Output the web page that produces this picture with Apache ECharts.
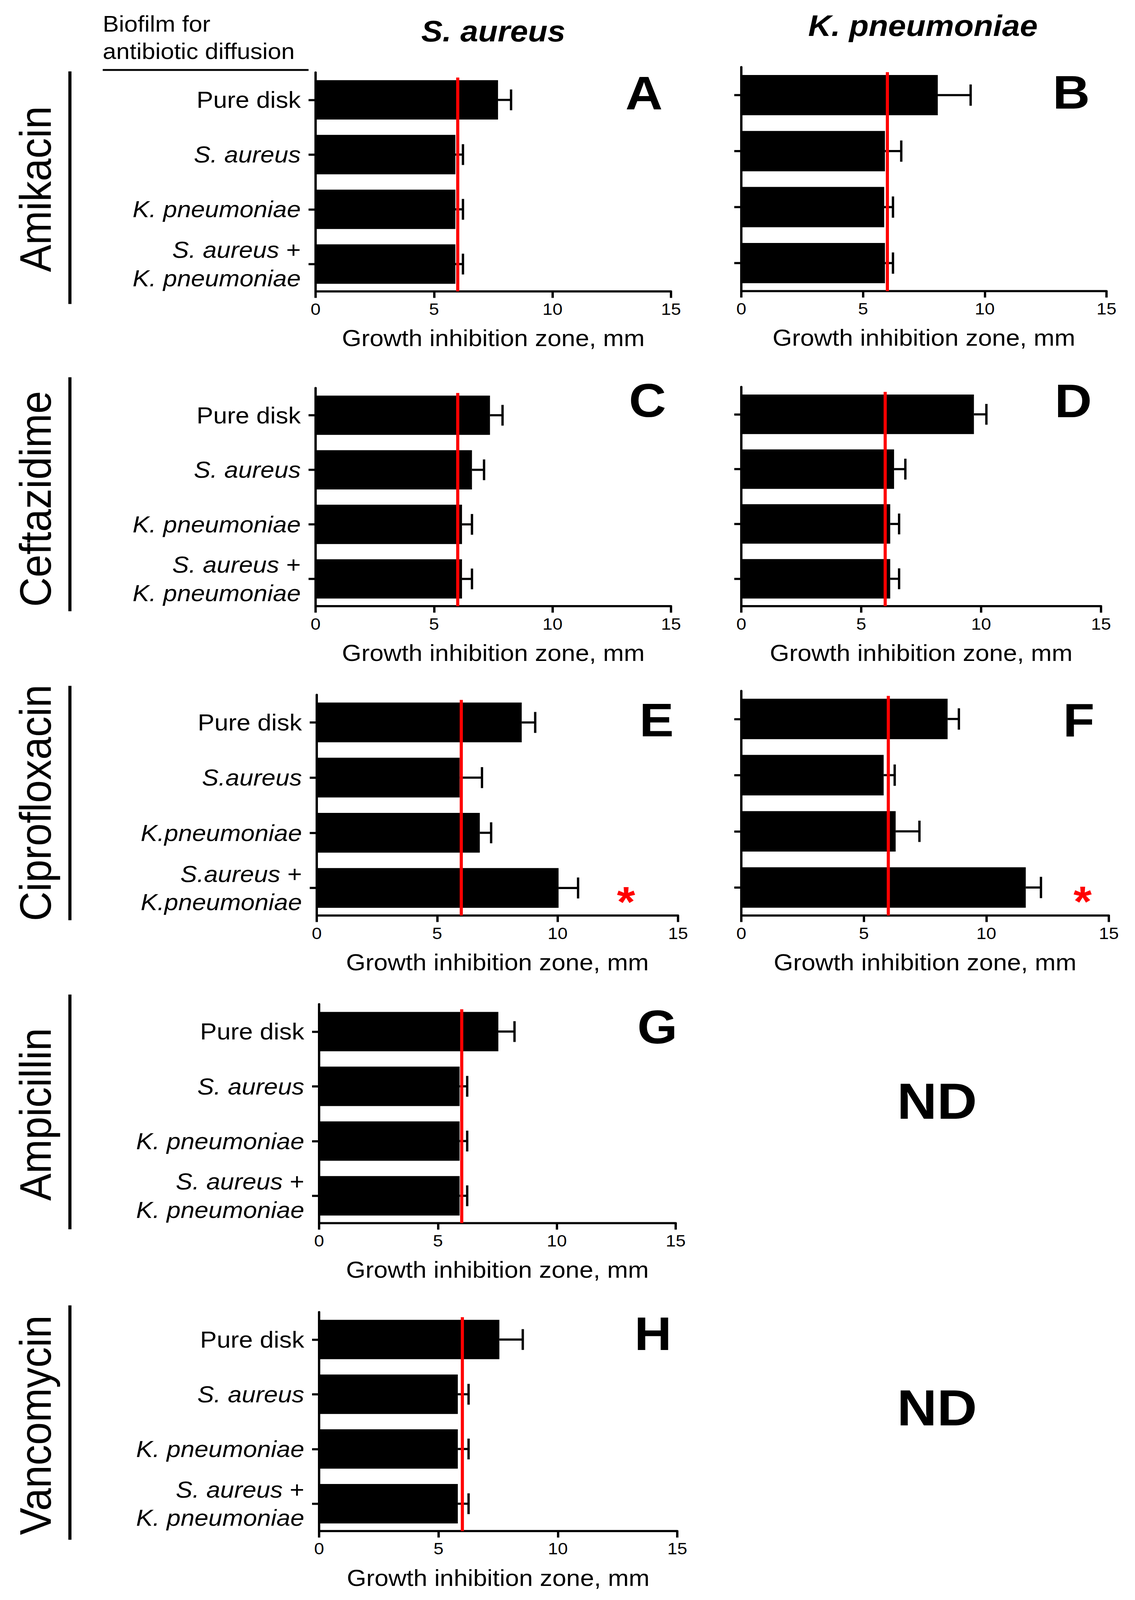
<!DOCTYPE html>
<html><head><meta charset="utf-8">
<script src="https://cdn.jsdelivr.net/npm/echarts@6/dist/echarts.min.js"></script>
<style>html,body{margin:0;padding:0;background:#fff;overflow:hidden}#c{width:2906px;height:4458px;transform-origin:0 0}</style>
</head><body><div id="c"></div>
<script>
// ---- data ----
const categories = ['Pure disk', 'S. aureus', 'K. pneumoniae', 'S. aureus +\nK. pneumoniae'];
const categoriesCipro = ['Pure disk', 'S.aureus', 'K.pneumoniae', 'S.aureus +\nK.pneumoniae'];
const xTickValues = [0, 5, 10, 15];
const threshold = 6;

const meanA = [7.70, 5.90, 5.90, 5.90]; const errA = [0.55, 0.32, 0.32, 0.32];
const meanB = [8.07, 5.90, 5.87, 5.90]; const errB = [1.35, 0.67, 0.36, 0.33];
const meanC = [7.36, 6.60, 6.18, 6.18]; const errC = [0.53, 0.51, 0.42, 0.42];
const meanD = [9.70, 6.37, 6.21, 6.21]; const errD = [0.52, 0.47, 0.37, 0.37];
const meanE = [8.51, 5.93, 6.77, 10.04]; const errE = [0.56, 0.93, 0.47, 0.81];
const meanF = [8.42, 5.81, 6.30, 11.61]; const errF = [0.46, 0.45, 0.97, 0.62];
const meanG = [7.54, 5.91, 5.91, 5.91]; const errG = [0.68, 0.32, 0.32, 0.32];
const meanH = [7.55, 5.81, 5.81, 5.81]; const errH = [0.98, 0.45, 0.45, 0.45];
const sigMarkE = [12.84, 3];
const sigMarkF = [13.93, 3];

const drugNames = ['Amikacin', 'Ceftazidime', 'Ciprofloxacin', 'Ampicillin', 'Vancomycin'];
const columnTitles = ['S. aureus', 'K. pneumoniae'];
const axisTitle = 'Growth inhibition zone, mm';

// ---- layout (designed for a 2906 x 4458 page; fitted to the real viewport) ----
const DESIGN_W = 2906, DESIGN_H = 4458;
const FF = '"Liberation Sans", Arial, Helvetica, sans-serif';
const panels = [
  {mean: meanA, err: errA, cats: categories, labels: true, rect: [808, 202, 910, 610]},
  {mean: meanB, err: errB, cats: categories, labels: false, rect: [1898, 187, 935, 624]},
  {mean: meanC, err: errC, cats: categories, labels: true, rect: [808, 1081, 910, 608]},
  {mean: meanD, err: errD, cats: categories, labels: false, rect: [1898, 1078, 921, 611]},
  {mean: meanE, err: errE, cats: categoriesCipro, labels: true, rect: [811, 1936, 925, 615], sig: sigMarkE},
  {mean: meanF, err: errF, cats: categories, labels: false, rect: [1898, 1925, 941, 626], sig: sigMarkF},
  {mean: meanG, err: errG, cats: categories, labels: true, rect: [817, 2798, 913, 610]},
  {mean: meanH, err: errH, cats: categories, labels: true, rect: [817, 3656, 917, 610]}
];
const letters = [['A',1649,259],['B',2743,257],['C',1658,1116],['D',2748,1117],['E',1681,2006],['F',2762,2007],['G',1683,2861],['H',1672,3716]];
const drugPos = [[527,199,847],[1390,1051,1703],[2237,1911,2564],[3105,2771,3425],[3971,3637,4290]];

function catFormatter(v) {
  return v.split('\n').map(line => {
    if (line === 'Pure disk') return '{n|' + line + '}';
    if (line.endsWith(' +')) return '{i|' + line.slice(0, -2) + '}{n| +}';
    return '{i|' + line + '}';
  }).join('\n');
}

function renderErr(params, api) {
  const c = api.value(1);
  const p1 = api.coord([api.value(0), c]);
  const p2 = api.coord([api.value(2), c]);
  const h = api.size([0, 1])[1] * 0.19;
  return {type: 'group', children: [
    {type: 'line', shape: {x1: p1[0], y1: p1[1], x2: p2[0], y2: p2[1]}, style: {stroke: '#000', lineWidth: 6}},
    {type: 'line', shape: {x1: p2[0], y1: p2[1] - h, x2: p2[0], y2: p2[1] + h}, style: {stroke: '#000', lineWidth: 6}}
  ]};
}
function renderThreshold(params, api) {
  const x = api.coord([api.value(0), 0])[0];
  const cs = params.coordSys;
  return {type: 'line', shape: {x1: x, y1: cs.y + 14, x2: x, y2: cs.y + cs.height}, style: {stroke: '#ff0000', lineWidth: 8}};
}
function renderSig(params, api) {
  const p = api.coord([api.value(0), api.value(1)]);
  return {type: 'text', x: p[0], y: p[1] + 38, style: {text: '*', fill: '#ff0000', font: 'bold 120px ' + FF, align: 'center', verticalAlign: 'middle'}};
}

const grid = [], xAxis = [], yAxis = [], series = [];
panels.forEach((p, i) => {
  grid.push({left: p.rect[0], top: p.rect[1], width: p.rect[2], height: p.rect[3], containLabel: false});
  xAxis.push({
    gridIndex: i, type: 'value', min: xTickValues[0], max: xTickValues[xTickValues.length - 1], interval: 5,
    axisLine: {show: true, onZero: false, lineStyle: {color: '#000', width: 6}},
    axisTick: {show: true, length: 18, lineStyle: {color: '#000', width: 6}},
    splitLine: {show: false},
    axisLabel: {fontSize: 46, color: '#000', margin: 26, fontFamily: FF},
    name: axisTitle, nameLocation: 'middle', nameGap: 98,
    nameTextStyle: {fontSize: 64, color: '#000', fontFamily: FF}
  });
  yAxis.push({
    gridIndex: i, type: 'category', data: p.cats, inverse: true,
    axisLine: {show: true, lineStyle: {color: '#000', width: 6}},
    axisTick: {show: true, alignWithLabel: true, length: 18, lineStyle: {color: '#000', width: 6}},
    splitLine: {show: false},
    axisLabel: {show: p.labels, margin: 38, align: 'right', formatter: catFormatter,
      rich: {
        n: {fontSize: 64, fontFamily: FF, color: '#000', lineHeight: 79},
        i: {fontSize: 64, fontFamily: FF, color: '#000', fontStyle: 'italic', lineHeight: 79}
      }}
  });
  series.push({type: 'bar', xAxisIndex: i, yAxisIndex: i, data: p.mean, barWidth: '72%', itemStyle: {color: '#000'}, z: 2, silent: true});
  series.push({type: 'custom', xAxisIndex: i, yAxisIndex: i, renderItem: renderErr,
    data: p.mean.map((m, k) => [m, k, +(m + p.err[k]).toFixed(2)]), encode: {x: [0, 2], y: 1}, z: 3, silent: true});
  series.push({type: 'custom', xAxisIndex: i, yAxisIndex: i, renderItem: renderThreshold,
    data: [[threshold, 0]], encode: {x: 0, y: 1}, z: 4, silent: true});
  if (p.sig) {
    series.push({type: 'custom', xAxisIndex: i, yAxisIndex: i, renderItem: renderSig,
      data: [p.sig], encode: {x: 0, y: 1}, z: 5, silent: true, clip: false});
  }
});

const graphic = [];
graphic.push({type: 'text', x: 263, y: 67, style: {text: 'Biofilm for', font: '62px ' + FF, fill: '#000', align: 'left', verticalAlign: 'middle'}});
graphic.push({type: 'text', x: 263, y: 143, style: {text: 'antibiotic diffusion', font: '62px ' + FF, fill: '#000', align: 'left', verticalAlign: 'middle'}});
graphic.push({type: 'line', shape: {x1: 263, y1: 195, x2: 790, y2: 195}, style: {stroke: '#000', lineWidth: 5}});
graphic.push({type: 'text', x: 1263, y: 87, style: {text: columnTitles[0], font: 'italic bold 82px ' + FF, fill: '#000', align: 'center', verticalAlign: 'middle'}});
graphic.push({type: 'text', x: 2363, y: 72, style: {text: columnTitles[1], font: 'italic bold 82px ' + FF, fill: '#000', align: 'center', verticalAlign: 'middle'}});
drugNames.forEach((d, k) => {
  const [cy, y1, y2] = drugPos[k];
  graphic.push({type: 'text', x: 90, y: cy, rotation: Math.PI / 2, style: {text: d, font: '114px ' + FF, fill: '#000', align: 'center', verticalAlign: 'middle'}});
  graphic.push({type: 'line', shape: {x1: 179, y1: y1, x2: 179, y2: y2}, style: {stroke: '#000', lineWidth: 8}});
});
letters.forEach(([t, x, y]) => {
  graphic.push({type: 'text', x: x, y: y, style: {text: t, font: 'bold 132px ' + FF, fill: '#000', align: 'center', verticalAlign: 'middle'}});
});
graphic.push({type: 'text', x: 2399, y: 3068, style: {text: 'ND', font: 'bold 142px ' + FF, fill: '#000', align: 'center', verticalAlign: 'middle'}});
graphic.push({type: 'text', x: 2399, y: 3923, style: {text: 'ND', font: 'bold 142px ' + FF, fill: '#000', align: 'center', verticalAlign: 'middle'}});

// fit the design page into the real viewport (the window may be capped below 4458 px tall)
const el = document.getElementById('c');
const sx = (window.innerWidth || DESIGN_W) / DESIGN_W;
const sy = (window.innerHeight || DESIGN_H) / DESIGN_H;
if (Math.abs(sx - 1) > 0.001 || Math.abs(sy - 1) > 0.001) {
  el.style.transform = 'scale(' + sx + ',' + sy + ')';
}

const chart = echarts.init(el, null, {renderer: 'svg', width: DESIGN_W, height: DESIGN_H});
chart.setOption({backgroundColor: '#fff', animation: false, grid, xAxis, yAxis, series, graphic});
</script></body></html>
